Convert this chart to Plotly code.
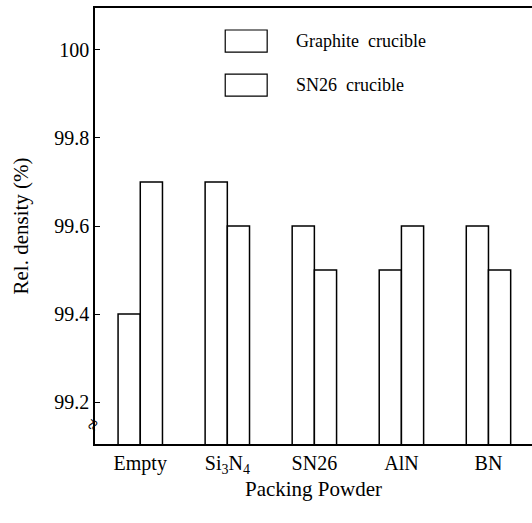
import plotly.graph_objects as go

categories = ["Empty", "Si<sub>3</sub>N<sub>4</sub>", "SN26", "AlN", "BN"]
graphite = [99.4, 99.7, 99.6, 99.5, 99.6]
sn26 = [99.7, 99.6, 99.5, 99.6, 99.5]
series_names = ["Graphite\u00a0 crucible", "SN26\u00a0 crucible"]
y_ticks = [99.2, 99.4, 99.6, 99.8, 100]
y_tick_text = ["99.2", "99.4", "99.6", "99.8", "100"]

FONT = "Liberation Serif, Times New Roman, serif"
fig = go.Figure()
for name, vals in zip(series_names, [graphite, sn26]):
    fig.add_trace(go.Bar(
        x=list(range(len(categories))), y=vals, name=name,
        marker=dict(color="white", line=dict(color="black", width=1.5)),
        showlegend=False,
    ))

# legend drawn as boxes + text
for i, name in enumerate(series_names):
    y0 = 0.9495 - i * 0.101
    fig.add_shape(type="rect", xref="paper", yref="paper",
                  x0=0.298, x1=0.394, y0=y0 - 0.0505, y1=y0,
                  line=dict(color="black", width=1.2), fillcolor="white")
    fig.add_annotation(xref="paper", yref="paper", x=0.455, y=y0 - 0.026,
                       text=name, showarrow=False, xanchor="left", yanchor="middle",
                       font=dict(family=FONT, size=18, color="black"))

# axis break mark
fig.add_annotation(xref="paper", yref="paper", x=-0.006, y=0.044, text="≈",
                   showarrow=False, textangle=-70, xanchor="center", yanchor="middle",
                   font=dict(family=FONT, size=20, color="black"))

fig.update_layout(
    width=532, height=523,
    margin=dict(l=95, r=0, t=8, b=79),
    plot_bgcolor="white", paper_bgcolor="white",
    barmode="group", bargap=0.49, bargroupgap=0,
    font=dict(family=FONT, size=20, color="black"),
    xaxis=dict(
        tickmode="array", tickvals=list(range(len(categories))), ticktext=categories,
        range=[-0.52, 4.5], showline=True, linecolor="black", linewidth=1.5,
        mirror=True, ticks="", showgrid=False, zeroline=False,
        tickfont=dict(family=FONT, size=20, color="black"),
        title=dict(text="Packing Powder", font=dict(family=FONT, size=21), standoff=2),
    ),
    yaxis=dict(
        range=[99.105, 100.095], tickmode="array", tickvals=y_ticks, ticktext=y_tick_text,
        showline=True, linecolor="black", linewidth=1.5, ticks="inside", ticklen=5,
        tickcolor="black", showgrid=False, zeroline=False,
        tickfont=dict(family=FONT, size=20, color="black"),
        title=dict(text="Rel. density (%)", font=dict(family=FONT, size=21), standoff=20),
    ),
)

fig.write_html("out.html")
